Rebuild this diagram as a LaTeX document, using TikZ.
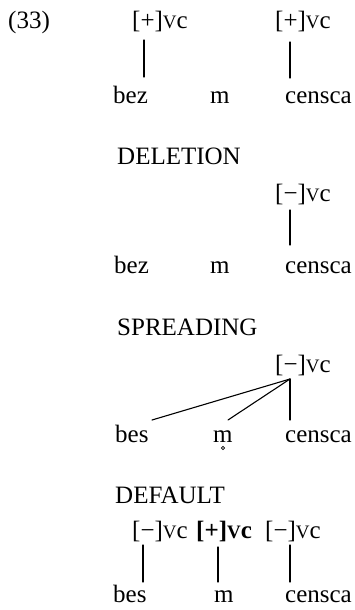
\documentclass[tikz,border=0pt]{standalone}
\usepackage{fontspec}
\setmainfont{Liberation Serif}
\newcommand{\vcfeat}{{\fontsize{19}{20}\selectfont V}c}
\newcommand{\mns}{\raisebox{0pt}{−}}
\tikzset{
  txt/.style={anchor=base west, inner sep=0pt, font=\fontsize{25}{28}\selectfont},
  assoc/.style={line width=1.1pt, line cap=round}
}
\begin{document}
\begin{tikzpicture}[x=1pt,y=-1pt]
\useasboundingbox (0,0) rectangle (355,610);
% Row 1
\node[txt] (num) at (8,29) {(33)};
\node[txt] (f1a) at (132,29) {[+]\vcfeat};
\node[txt] (f1b) at (275,29) {[+]\vcfeat};
\node[txt] (w1a) at (113,103) {bez};
\node[txt] (w1b) at (210,103) {m};
\node[txt] (w1c) at (285,103) {censca};
\coordinate (a1t) at (144,40); \coordinate (a1b) at (144,77);
\coordinate (b1t) at (290,42); \coordinate (b1b) at (290,78);
\draw[assoc] (a1t) -- (a1b);
\draw[assoc] (b1t) -- (b1b);
% Row 2
\node[txt] (h2) at (117,164) {DELETION};
\node[txt] (f2) at (275,201) {[−]\vcfeat};
\node[txt] (w2a) at (114,273) {bez};
\node[txt] (w2b) at (210,273) {m};
\node[txt] (w2c) at (285,273) {censca};
\coordinate (c2t) at (290,210); \coordinate (c2b) at (290,245);
\draw[assoc] (c2t) -- (c2b);
% Row 3
\node[txt] (h3) at (117,335) {SPREADING};
\node[txt] (f3) at (275,372) {[−]\vcfeat};
\node[txt] (w3a) at (115,442) {bes};
\node[txt] (w3b) at (213,442) {m};
\node[txt] (w3c) at (285,442) {censca};
\coordinate (hub) at (290,379);
\coordinate (e3a) at (152,420);
\coordinate (e3b) at (228,420);
\coordinate (e3c) at (290,420);
\draw[assoc] (hub) -- (e3a);
\draw[assoc] (hub) -- (e3b);
\draw[assoc] (hub) -- (e3c);
\draw[line width=0.7pt] (223,448) circle (1.6);
% Row 4
\node[txt] (h4) at (115,503) {DEFAULT};
\node[txt] (f4a) at (132,538) {[−]\vcfeat};
\node[txt] (f4b) at (196,538) {\bfseries [+]{\fontsize{19}{20}\selectfont V}c};
\node[txt] (f4c) at (265,538) {[−]\vcfeat};
\node[txt] (w4a) at (113,602) {bes};
\node[txt] (w4b) at (214,602) {m};
\node[txt] (w4c) at (285,602) {censca};
\coordinate (d1t) at (143,545); \coordinate (d1b) at (143,582);
\coordinate (d2t) at (218,547); \coordinate (d2b) at (218,582);
\coordinate (d3t) at (290,545); \coordinate (d3b) at (290,582);
\draw[assoc] (d1t) -- (d1b);
\draw[assoc] (d2t) -- (d2b);
\draw[assoc] (d3t) -- (d3b);
\end{tikzpicture}
\end{document}
